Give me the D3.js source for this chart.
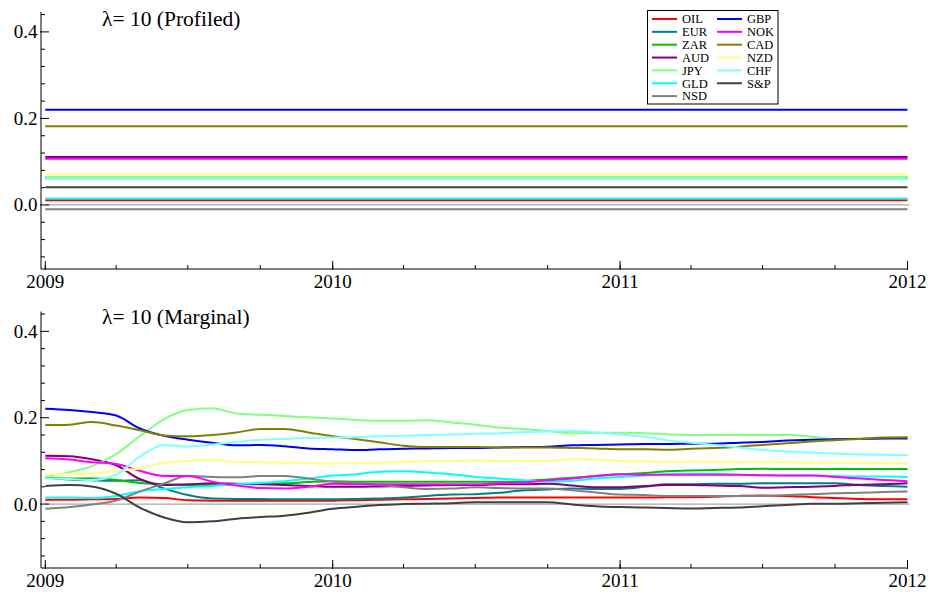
<!DOCTYPE html>
<html>
<head>
<meta charset="utf-8">
<script src="https://cdn.jsdelivr.net/npm/d3@7"></script>
<style>
  html, body { margin: 0; padding: 0; background: #fff; }
  svg { display: block; }
</style>
</head>
<body>
<svg id="chart" width="932" height="592" font-family="'Liberation Serif', 'Times New Roman', Times, 'DejaVu Serif', serif"></svg>
<script>
// ---------------- DATA ----------------
const months = ["2009-01","2009-02","2009-03","2009-04","2009-05","2009-06","2009-07","2009-08","2009-09","2009-10","2009-11","2009-12",
  "2010-01","2010-02","2010-03","2010-04","2010-05","2010-06","2010-07","2010-08","2010-09","2010-10","2010-11","2010-12",
  "2011-01","2011-02","2011-03","2011-04","2011-05","2011-06","2011-07","2011-08","2011-09","2011-10","2011-11","2011-12","2012-01"];

const seriesNames = ["OIL","EUR","ZAR","AUD","JPY","GLD","NSD","GBP","NOK","CAD","NZD","CHF","S&P"];
const seriesColors = ["#ff0000","#008080","#00c000","#800080","#80ff80","#00ffff","#808080","#0000ff","#ff00ff","#808000","#ffff80","#80ffff","#404040"];

// Top panel: profiled (constant) weights
const profiled = [0.011, 0.063, 0.061, 0.111, 0.064, 0.015, -0.010, 0.220, 0.107, 0.182, 0.071, 0.060, 0.041];

// Bottom panel: marginal (time-varying) weights, monthly
const OIL = [0.010,0.010,0.011,0.012,0.015,0.014,0.009,0.008,0.008,0.008,0.008,0.008,0.008,0.009,0.010,0.011,0.012,0.013,0.014,0.015,0.015,0.015,0.015,0.015,0.015,0.015,0.016,0.016,0.017,0.019,0.020,0.019,0.016,0.014,0.012,0.011,0.011];
const EUR = [0.063,0.057,0.055,0.054,0.055,0.036,0.021,0.013,0.012,0.012,0.011,0.011,0.011,0.012,0.013,0.015,0.019,0.022,0.023,0.026,0.032,0.034,0.036,0.035,0.035,0.040,0.046,0.046,0.047,0.047,0.048,0.048,0.048,0.048,0.044,0.042,0.040];
const ZAR = [0.061,0.059,0.059,0.056,0.049,0.046,0.044,0.044,0.046,0.047,0.048,0.051,0.053,0.052,0.052,0.052,0.052,0.052,0.052,0.051,0.053,0.057,0.061,0.065,0.069,0.072,0.076,0.078,0.079,0.081,0.082,0.081,0.081,0.081,0.081,0.081,0.081];
const AUD = [0.112,0.111,0.104,0.090,0.058,0.044,0.046,0.048,0.047,0.046,0.044,0.042,0.040,0.040,0.041,0.042,0.043,0.044,0.044,0.046,0.046,0.047,0.043,0.039,0.039,0.042,0.044,0.044,0.043,0.042,0.038,0.039,0.040,0.042,0.045,0.046,0.048];
const JPY = [0.063,0.074,0.088,0.116,0.157,0.197,0.218,0.222,0.210,0.207,0.204,0.201,0.198,0.195,0.193,0.193,0.194,0.189,0.184,0.177,0.174,0.169,0.164,0.165,0.165,0.164,0.162,0.160,0.160,0.160,0.160,0.160,0.156,0.151,0.152,0.153,0.154];
const GLD = [0.015,0.015,0.014,0.019,0.030,0.035,0.039,0.042,0.046,0.049,0.053,0.059,0.066,0.069,0.075,0.076,0.073,0.069,0.063,0.059,0.055,0.052,0.054,0.059,0.063,0.066,0.069,0.070,0.070,0.068,0.066,0.066,0.066,0.065,0.064,0.064,0.063];
const NSD = [-0.011,-0.007,-0.001,0.008,0.029,0.048,0.065,0.063,0.062,0.065,0.065,0.059,0.052,0.048,0.044,0.039,0.035,0.036,0.039,0.037,0.036,0.036,0.032,0.027,0.022,0.021,0.019,0.019,0.019,0.019,0.019,0.021,0.023,0.025,0.026,0.028,0.029];
const GBP = [0.221,0.218,0.213,0.205,0.175,0.158,0.149,0.142,0.136,0.137,0.134,0.129,0.127,0.125,0.127,0.128,0.129,0.130,0.130,0.131,0.132,0.133,0.136,0.137,0.138,0.139,0.139,0.140,0.140,0.142,0.144,0.147,0.149,0.150,0.151,0.152,0.152];
const NOK = [0.106,0.103,0.097,0.093,0.077,0.065,0.065,0.052,0.043,0.037,0.036,0.040,0.047,0.046,0.046,0.046,0.046,0.046,0.046,0.048,0.050,0.055,0.059,0.065,0.069,0.068,0.068,0.068,0.068,0.068,0.067,0.066,0.066,0.063,0.059,0.056,0.053];
const CAD = [0.183,0.184,0.190,0.182,0.171,0.159,0.157,0.160,0.166,0.174,0.174,0.166,0.157,0.150,0.143,0.135,0.132,0.132,0.132,0.131,0.131,0.131,0.130,0.129,0.127,0.127,0.126,0.128,0.130,0.133,0.137,0.141,0.145,0.148,0.151,0.154,0.155];
const NZD = [0.069,0.069,0.071,0.076,0.083,0.096,0.100,0.102,0.098,0.097,0.096,0.095,0.094,0.095,0.096,0.098,0.100,0.100,0.101,0.100,0.100,0.100,0.104,0.103,0.100,0.099,0.098,0.098,0.098,0.098,0.098,0.097,0.096,0.096,0.096,0.095,0.094];
const CHF = [0.060,0.058,0.056,0.068,0.110,0.137,0.133,0.138,0.144,0.149,0.151,0.153,0.154,0.155,0.157,0.158,0.160,0.161,0.163,0.164,0.167,0.168,0.169,0.166,0.161,0.156,0.148,0.142,0.137,0.131,0.125,0.122,0.119,0.117,0.115,0.114,0.113];
const SP  = [0.042,0.044,0.041,0.024,-0.008,-0.031,-0.042,-0.040,-0.034,-0.030,-0.027,-0.020,-0.011,-0.006,-0.002,0.000,0.001,0.002,0.004,0.004,0.004,0.004,-0.001,-0.005,-0.007,-0.008,-0.009,-0.010,-0.009,-0.008,-0.005,-0.002,0.001,0.001,0.002,0.003,0.004];

const marginal = [OIL, EUR, ZAR, AUD, JPY, GLD, NSD, GBP, NOK, CAD, NZD, CHF, SP];

const yMajorTicks = [0.0, 0.2, 0.4];
const yTickLabels = ["0.0", "0.2", "0.4"];
const xYearTicks = ["2009", "2010", "2011", "2012"];
const titles = ["\u03bb= 10 (Profiled)", "\u03bb= 10 (Marginal)"];

// ---------------- CHART ----------------
const svg = d3.select("#chart");
const parseM = d3.timeParse("%Y-%m");
const parseY = d3.timeParse("%Y");
const dates = months.map(parseM);

const axisX0 = 41;
const x = d3.scaleTime()
  .domain([parseY("2009"), parseY("2012")])
  .range([45.3, 907.5]);

const yDomain = [-0.148, 0.446];
const panels = [
  { top: 12, bottom: 269, title: titles[0], titleY: 25.5 },
  { top: 311.5, bottom: 568, title: titles[1], titleY: 324 }
];

const minorY = d3.range(-0.12, 0.445, 0.04).map(v => +v.toFixed(2))
  .filter(v => !yMajorTicks.some(m => Math.abs(m - v) < 1e-6));
const quarterTicks = d3.timeMonth.every(3).range(parseY("2009"), parseY("2012"));

panels.forEach((p, pi) => {
  const y = d3.scaleLinear().domain(yDomain).range([p.bottom, p.top]);
  const g = svg.append("g");

  // zero line
  g.append("line")
    .attr("x1", x(parseY("2009"))).attr("x2", x(parseY("2012")) + 2)
    .attr("y1", y(0)).attr("y2", y(0))
    .attr("stroke", "#a8a8a8").attr("stroke-width", 1.3);

  // series
  const line = d3.line().x((d, i) => x(dates[i])).y(d => y(d)).curve(d3.curveMonotoneX);
  seriesNames.forEach((name, si) => {
    const vals = pi === 0 ? dates.map(() => profiled[si]) : marginal[si];
    g.append("path")
      .attr("d", line(vals))
      .attr("fill", "none")
      .attr("stroke", seriesColors[si])
      .attr("stroke-width", 2);
  });

  // axes lines
  g.append("line").attr("x1", axisX0).attr("x2", axisX0).attr("y1", p.top).attr("y2", p.bottom)
    .attr("stroke", "#000").attr("stroke-width", 1);
  g.append("line").attr("x1", axisX0).attr("x2", x(parseY("2012")) + 0.5).attr("y1", p.bottom).attr("y2", p.bottom)
    .attr("stroke", "#000").attr("stroke-width", 1);

  // y ticks
  yMajorTicks.forEach(v => {
    g.append("line").attr("x1", axisX0 - 1).attr("x2", axisX0 + 8).attr("y1", y(v)).attr("y2", y(v))
      .attr("stroke", "#000").attr("stroke-width", 1);
  });
  minorY.forEach(v => {
    g.append("line").attr("x1", axisX0).attr("x2", axisX0 + 4).attr("y1", y(v)).attr("y2", y(v))
      .attr("stroke", "#000").attr("stroke-width", 1);
  });
  yMajorTicks.forEach((v, i) => {
    g.append("text").attr("x", axisX0 - 3.5).attr("y", y(v)).attr("dy", "0.34em")
      .attr("text-anchor", "end").attr("font-size", 19).text(yTickLabels[i]);
  });

  // x ticks
  quarterTicks.forEach(d => {
    g.append("line").attr("x1", x(d)).attr("x2", x(d)).attr("y1", p.bottom).attr("y2", p.bottom - 4)
      .attr("stroke", "#000").attr("stroke-width", 1);
  });
  xYearTicks.forEach(t => {
    const d = parseY(t);
    g.append("line").attr("x1", x(d)).attr("x2", x(d)).attr("y1", p.bottom + 1).attr("y2", p.bottom - 8)
      .attr("stroke", "#000").attr("stroke-width", 1);
    g.append("text").attr("x", x(d)).attr("y", p.bottom + 19)
      .attr("text-anchor", "middle").attr("font-size", 19).text(t);
  });

  // title
  g.append("text").attr("x", 102).attr("y", p.titleY).attr("font-size", 21.5).text(p.title);
});

// legend (top panel)
const lg = svg.append("g");
lg.append("rect").attr("x", 647.5).attr("y", 10.5).attr("width", 130.5).attr("height", 93.5)
  .attr("fill", "#fff").attr("stroke", "#000").attr("stroke-width", 1);
seriesNames.forEach((name, i) => {
  const col = i < 7 ? 0 : 1;
  const row = i < 7 ? i : i - 7;
  const lx = col === 0 ? 652 : 717;
  const ly = 19 + row * 12.85;
  lg.append("line").attr("x1", lx).attr("x2", lx + 25).attr("y1", ly).attr("y2", ly)
    .attr("stroke", seriesColors[i]).attr("stroke-width", 2);
  lg.append("text").attr("x", lx + 30).attr("y", ly).attr("dy", "0.35em")
    .attr("font-size", 12.5).text(name);
});
</script>
</body>
</html>
